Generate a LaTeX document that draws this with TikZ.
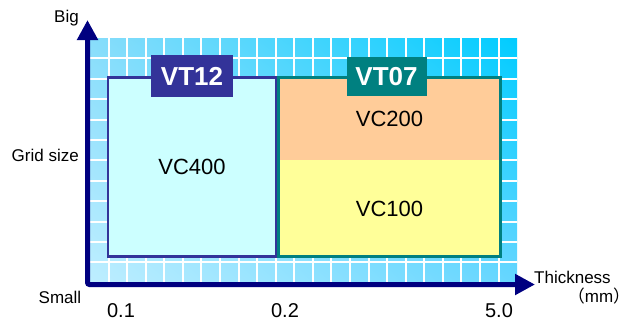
\documentclass[tikz,border=0pt]{standalone}
\usepackage{fontspec}
\setmainfont{Liberation Sans}
\newfontfamily\cjk{Noto Sans CJK JP}
\usetikzlibrary{arrows.meta, shadings}

\definecolor{navy}{HTML}{000080}
\definecolor{vtblue}{HTML}{333399}
\definecolor{vtteal}{HTML}{008080}
\definecolor{boxcyan}{HTML}{CCFFFF}
\definecolor{boxorange}{HTML}{FFCC99}
\definecolor{boxyellow}{HTML}{FFFF99}
\definecolor{gridul}{HTML}{88DDFB}
\definecolor{gridur}{HTML}{00CCFF}
\definecolor{gridll}{HTML}{BEEEFF}
\definecolor{gridlr}{HTML}{66D6FF}

\begin{document}
\begin{tikzpicture}[
x=1pt, y=-1pt,
area/.style={inner sep=0pt, minimum width=223pt, font=\fontsize{22}{22}\selectfont},
tag/.style={inner sep=0pt, minimum width=82pt, minimum height=42pt, text=white, font=\fontsize{26}{26}\selectfont\bfseries},
axislabel/.style={inner sep=0pt, font=\fontsize{17}{17}\selectfont},
tick/.style={inner sep=0pt, font=\fontsize{20}{20}\selectfont},
axis/.style={{Triangle[length=20pt, width=20pt]}-{Triangle[length=20pt, width=20pt]}, line width=5pt, navy, rounded corners=2pt}
]
\useasboundingbox (0,0) rectangle (636,322);

% grid background
\shade[upper left=gridul, upper right=gridur, lower left=gridll, lower right=gridlr]
  (90,38) rectangle (517,283);
\foreach \i in {1,...,22}
  \draw[white, line width=2pt] (90+18.57*\i,38) -- (90+18.57*\i,283);
\foreach \j in {1,...,11}
  \draw[white, line width=2pt] (90,38+20.4*\j) -- (517,38+20.4*\j);

% boxes
\node[draw=vtblue, line width=2.5pt, fill=boxcyan, inner sep=0pt, minimum width=168pt, minimum height=179pt,
  font=\fontsize{22}{22}\selectfont] (vt12) at (192,167) {VC400};
\node[area, fill=boxorange, minimum height=83pt] (vc200) at (389.5,118.5) {VC200};
\node[area, fill=boxyellow, minimum height=97pt] (vc100) at (389.5,208.5) {VC100};
\node[draw=vtteal, line width=2.5pt, minimum width=222pt, minimum height=179pt] (vt07) at (389.5,167) {};

% tags
\node[tag, fill=vtblue] (tag12) at (vt12.north) {VT12};
\node[tag, fill=vtteal, minimum width=80pt, minimum height=39pt] (tag07) at ([xshift=-3pt]vt07.north) {VT07};

% axes
\coordinate (origin) at (87.5,284.5);
\coordinate (ytop) at (87.5,20);
\coordinate (xend) at (535,284.5);
\draw[axis] (ytop) -- (origin) -- (xend);

\node[axislabel, anchor=east] (big) at (79,18) {Big};
\node[axislabel, anchor=east] (gridsize) at (79,155) {Grid size};
\node[axislabel] (small) at (60,297) {Small};
\node[axislabel, anchor=west] (thick) at (534,277) {Thickness};
\node[axislabel] (mm) at (599,296) {{\cjk （}mm{\cjk ）}};

\node[tick] (t1) at (121,311) {0.1};
\node[tick] (t2) at (285,311) {0.2};
\node[tick] (t3) at (499,311) {5.0};
\end{tikzpicture}
\end{document}
